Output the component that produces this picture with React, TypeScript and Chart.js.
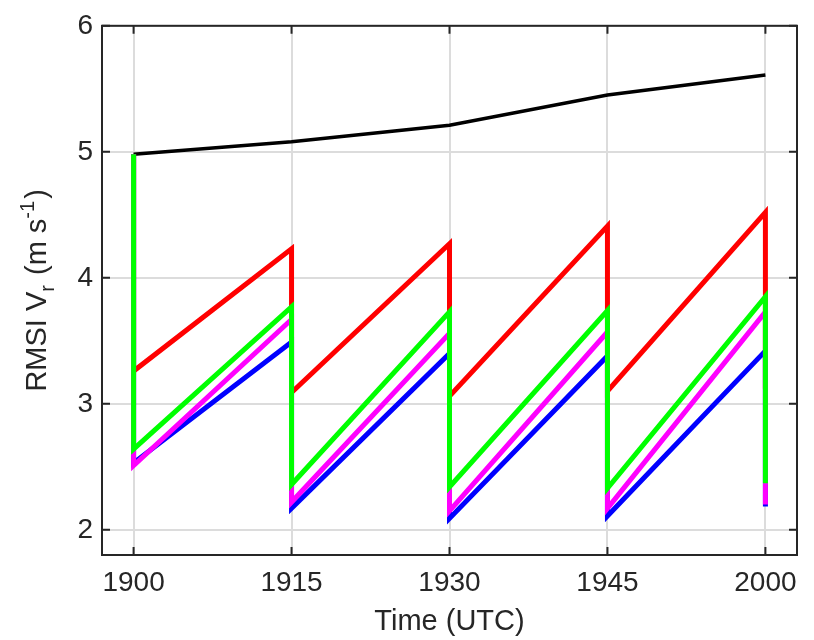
import React, { useEffect, useRef } from "react";
import { Chart, registerables } from "chart.js";

Chart.register(...registerables);

// ---- data ----
const timeLabels = ["1900", "1915", "1930", "1945", "2000"];
const timeIndex = [0, 1, 2, 3, 4];
const yTicks = [2, 3, 4, 5, 6];

const blackValues = [4.98, 5.08, 5.21, 5.45, 5.61];

const redPeaks = [4.98, 4.23, 4.27, 4.41, 4.52];
const redLows = [3.26, 3.09, 3.06, 3.1, 3.12];

const bluePeaks = [4.98, 3.49, 3.4, 3.38, 3.42];
const blueLows = [2.53, 2.17, 2.09, 2.11, 2.185];

const magentaPeaks = [4.98, 3.67, 3.56, 3.57, 3.73];
const magentaLows = [2.51, 2.22, 2.15, 2.17, 2.2];

const greenPeaks = [4.98, 3.77, 3.73, 3.74, 3.85];
const greenLows = [2.64, 2.36, 2.34, 2.33, 2.37];

const FONT = "'Liberation Sans', Arial, Helvetica, sans-serif";
const AXIS_COLOR = "#262626";

function sawtooth(peaks: number[], lows: number[]) {
  const pts: { x: number; y: number }[] = [];
  timeIndex.forEach((t, i) => {
    pts.push({ x: t, y: peaks[i] });
    pts.push({ x: t, y: lows[i] });
  });
  return pts;
}

function line(values: number[]) {
  return timeIndex.map((t, i) => ({ x: t, y: values[i] }));
}

const framePlugin = {
  id: "frame",
  afterDraw(chart: any) {
    const { ctx, chartArea } = chart;
    const { left, right, top, bottom } = chartArea;
    const xs = chart.scales.x;
    const ys = chart.scales.y;
    ctx.save();
    ctx.strokeStyle = AXIS_COLOR;
    ctx.lineWidth = 2;
    ctx.beginPath();
    const tl = 8;
    timeIndex.forEach((v) => {
      const px = xs.getPixelForValue(v);
      ctx.moveTo(px, bottom);
      ctx.lineTo(px, bottom - tl);
      ctx.moveTo(px, top);
      ctx.lineTo(px, top + tl);
    });
    yTicks.forEach((v) => {
      const py = ys.getPixelForValue(v);
      ctx.moveTo(left, py);
      ctx.lineTo(left + tl, py);
      ctx.moveTo(right, py);
      ctx.lineTo(right - tl, py);
    });
    ctx.stroke();
    ctx.strokeRect(left, top, right - left, bottom - top);

    // x title
    ctx.fillStyle = AXIS_COLOR;
    ctx.font = `29px ${FONT}`;
    ctx.textAlign = "center";
    ctx.textBaseline = "alphabetic";
    ctx.fillText("Time (UTC)", (left + right) / 2, 630);

    // y title with subscript / superscript
    const big = 29;
    const small = 20;
    const parts: { t: string; size: number; dy: number; gap: number }[] = [
      { t: "RMSI V", size: big, dy: 0, gap: 0 },
      { t: "r", size: small, dy: 8, gap: 2 },
      { t: " (m s", size: big, dy: 0, gap: 0 },
      { t: "-1", size: small, dy: -12, gap: 2 },
      { t: ")", size: big, dy: 0, gap: 0 },
    ];
    let total = 0;
    parts.forEach((p) => {
      ctx.font = `${p.size}px ${FONT}`;
      total += ctx.measureText(p.t).width + p.gap;
    });
    ctx.translate(46, (top + bottom) / 2);
    ctx.rotate(-Math.PI / 2);
    ctx.textAlign = "left";
    let x = -total / 2;
    parts.forEach((p) => {
      ctx.font = `${p.size}px ${FONT}`;
      ctx.fillText(p.t, x, p.dy);
      x += ctx.measureText(p.t).width + p.gap;
    });
    ctx.restore();
  },
};

export default function App() {
  const ref = useRef<HTMLCanvasElement | null>(null);
  useEffect(() => {
    document.body.style.margin = "0";
    const canvas = ref.current!;
    const common = {
      pointRadius: 0,
      fill: false,
      tension: 0,
      borderJoinStyle: "miter" as const,
    };
    const chart = new Chart(canvas, {
      type: "line",
      data: {
        datasets: [
          { ...common, label: "green", data: sawtooth(greenPeaks, greenLows), borderColor: "#00ff00", borderWidth: 5 },
          { ...common, label: "magenta", data: sawtooth(magentaPeaks, magentaLows), borderColor: "#ff00ff", borderWidth: 5 },
          { ...common, label: "blue", data: sawtooth(bluePeaks, blueLows), borderColor: "#0000ff", borderWidth: 5 },
          { ...common, label: "red", data: sawtooth(redPeaks, redLows), borderColor: "#ff0000", borderWidth: 5 },
          { ...common, label: "black", data: line(blackValues), borderColor: "#000000", borderWidth: 3.5 },
        ],
      },
      options: {
        responsive: false,
        animation: false,
        layout: { padding: { left: 0, right: 17, top: 17, bottom: 0 } },
        plugins: { legend: { display: false }, tooltip: { enabled: false } },
        scales: {
          x: {
            type: "linear",
            min: -0.2,
            max: 4.2,
            afterBuildTicks: (s: any) => {
              s.ticks = timeIndex.map((v) => ({ value: v }));
            },
            afterFit: (s: any) => {
              s.height = 85;
            },
            ticks: {
              autoSkip: false,
              maxRotation: 0,
              padding: 11,
              color: AXIS_COLOR,
              font: { family: FONT, size: 28 },
              callback: (v: any) => timeLabels[Math.round(Number(v))] ?? "",
            },
            grid: { color: "#dcdcdc", lineWidth: 2, drawTicks: false },
            border: { display: false },
          },
          y: {
            type: "linear",
            min: 1.8,
            max: 6,
            afterBuildTicks: (s: any) => {
              s.ticks = yTicks.map((v) => ({ value: v }));
            },
            afterFit: (s: any) => {
              s.width = 102;
            },
            ticks: {
              padding: 9,
              color: AXIS_COLOR,
              font: { family: FONT, size: 28 },
              callback: (v: any) => String(v),
            },
            grid: { color: "#dcdcdc", lineWidth: 2, drawTicks: false },
            border: { display: false },
          },
        },
      },
      plugins: [framePlugin],
    });
    return () => chart.destroy();
  }, []);
  return <canvas ref={ref} width={814} height={640} style={{ display: "block" }} />;
}
